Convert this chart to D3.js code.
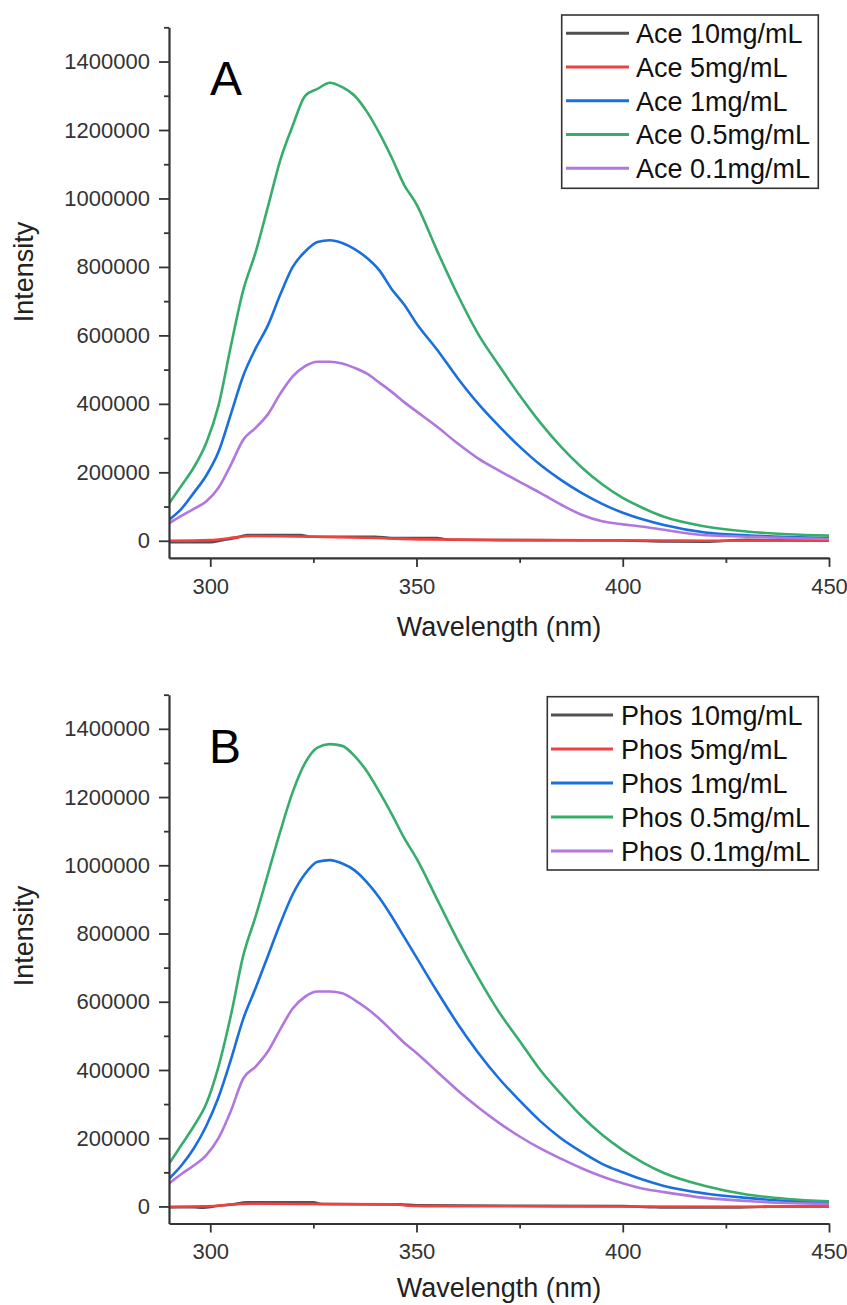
<!DOCTYPE html>
<html><head><meta charset="utf-8">
<script src="https://cdn.jsdelivr.net/npm/d3@7"></script>
<style>
body{margin:0;background:#fff}
svg{display:block}
text{font-family:"Liberation Sans",Arial,Helvetica,sans-serif}
</style>
</head><body>
<svg id="chart" width="847" height="1305"></svg>
<script>
// ---------- data ----------
const wavelengths = [290,293,296,299,302,305,308,311,314,317,320,323,326,329,332,335,338,341,344,347,350,355,360,365,370,375,380,385,390,395,400,405,410,420,430,440,450];

// Panel A (Ace)
const ace1 = [61000,93000,140000,190000,260000,370000,482000,562000,630000,720000,800000,845000,873000,878000,870000,852000,826000,790000,735000,690000,635000,558000,475000,400000,335000,275000,222000,178000,140000,108000,82000,62000,46000,24000,16000,11000,8000];
const ace05 = [109000,161000,214000,285000,395000,569000,732000,843000,977000,1113000,1213000,1300000,1320000,1338000,1325000,1300000,1253000,1191000,1119000,1040000,983000,847000,718000,603000,512000,425000,345000,275000,215000,165000,125000,95000,70000,42000,27000,19000,15000];
const ace01 = [51000,73000,93000,115000,155000,222000,295000,330000,370000,430000,480000,510000,523000,523000,518000,505000,488000,462000,435000,405000,378000,333000,284000,240000,205000,172000,140000,106000,76000,57000,48000,41000,32000,16000,12000,8000,5000];
const ace10Wl = [290,300,303,306,309,322,324,340,344,355,358,370,400,410,420,430,440,450];
const ace10 = [-4000,-4000,2000,8000,17000,17000,12000,12000,8000,8000,3000,2000,1000,-2000,-3000,3000,1000,0];
const ace5Wl = [290,300,303,306,310,325,340,352,380,410,420,450];
const ace5 = [0,2000,5000,10000,14000,12000,8000,4000,2000,1000,0,1000];

// Panel B (Phos)
const phos1 = [81000,120000,170000,235000,320000,430000,550000,640000,735000,830000,915000,975000,1010000,1015000,1005000,985000,950000,905000,850000,790000,730000,630000,535000,450000,375000,310000,250000,200000,160000,125000,100000,78000,60000,38000,25000,16000,12000];
const phos05 = [125000,180000,235000,300000,410000,560000,735000,850000,975000,1100000,1215000,1300000,1345000,1355000,1350000,1320000,1275000,1215000,1150000,1080000,1020000,900000,780000,670000,570000,485000,400000,330000,265000,210000,165000,128000,98000,60000,35000,22000,15000];
const phos01 = [67000,95000,120000,150000,200000,280000,375000,410000,455000,520000,580000,615000,630000,630000,625000,605000,580000,550000,515000,480000,450000,395000,340000,290000,245000,205000,170000,140000,112000,88000,68000,52000,42000,25000,16000,10000,7000];
const phos10Wl = [290,296,298,302,305,309,325,327,346,350,400,407,410,425,440,450];
const phos10 = [-2000,-2000,-4000,2000,5000,12000,12000,7000,6000,3000,1000,-2000,-3000,-3000,0,0];
const phos5Wl = [290,296,302,305,310,345,348,352,400,450];
const phos5 = [-2000,0,2000,6000,8000,6000,2000,1000,0,-1000];

const aceLabels = ["Ace 10mg/mL","Ace 5mg/mL","Ace 1mg/mL","Ace 0.5mg/mL","Ace 0.1mg/mL"];
const phosLabels = ["Phos 10mg/mL","Phos 5mg/mL","Phos 1mg/mL","Phos 0.5mg/mL","Phos 0.1mg/mL"];
const colors = ["#515151","#F14040","#1A6FDF","#37AD6B","#B177DE"];

const xMajor = [300,350,400,450];
const xMinor = [325,375,425];
const yMajor = [0,200000,400000,600000,800000,1000000,1200000,1400000];
const yMinor = [100000,300000,500000,700000,900000,1100000,1300000,1500000];
const xDomain = [290,450];
const yDomain = [-50000,1500000];

// ---------- drawing ----------
const svg = d3.select("#chart");
const X0 = 169, X1 = 829;
const axisColor = "#333";

function drawPanel(cfg){
  const x = d3.scaleLinear().domain(xDomain).range([X0,X1]);
  const y = d3.scaleLinear().domain(yDomain).range([cfg.yBottom,cfg.yTop]);
  const g = svg.append("g");
  const clipId = "clip"+cfg.id;
  svg.append("defs").append("clipPath").attr("id",clipId)
    .append("rect").attr("x",X0).attr("y",cfg.yTop-2).attr("width",X1-X0+2).attr("height",cfg.yBottom-cfg.yTop+1);
  const line = d3.line().x(d=>x(d[0])).y(d=>y(d[1])).curve(d3.curveMonotoneX);
  const lg = g.append("g").attr("clip-path",`url(#${clipId})`);
  cfg.series.forEach((s,i)=>{
    lg.append("path")
      .datum(s.wl.map((w,j)=>[w,s.v[j]]))
      .attr("d",line)
      .attr("fill","none")
      .attr("stroke",colors[i])
      .attr("stroke-width",2.6)
      .attr("stroke-linejoin","round");
  });

  // axes
  const xa = g.append("g").attr("transform",`translate(0,${cfg.yBottom})`)
    .call(d3.axisBottom(x).tickValues(xMajor).tickSize(9).tickSizeOuter(0).tickPadding(11).tickFormat(d3.format("d")));
  const xm = g.append("g").attr("transform",`translate(0,${cfg.yBottom})`)
    .call(d3.axisBottom(x).tickValues(xMinor).tickSize(5).tickFormat(""));
  xm.select(".domain").remove();
  const ya = g.append("g").attr("transform",`translate(${X0},0)`)
    .call(d3.axisLeft(y).tickValues(yMajor).tickSize(10).tickSizeOuter(0).tickPadding(9).tickFormat(d3.format("d")));
  const ym = g.append("g").attr("transform",`translate(${X0},0)`)
    .call(d3.axisLeft(y).tickValues(yMinor).tickSize(5).tickFormat(""));
  ym.select(".domain").remove();
  [xa,ya,xm,ym].forEach(a=>{
    a.selectAll(".domain").attr("stroke",axisColor).attr("stroke-width",2.2);
    a.selectAll(".tick line").attr("stroke",axisColor).attr("stroke-width",1.8);
    a.selectAll(".tick text").attr("fill","#333").style("font-size","22px")
      .style("font-family",'"Liberation Sans",Arial,sans-serif');
  });

  // titles
  g.append("text").attr("x",(X0+X1)/2).attr("y",cfg.xTitleY)
    .attr("text-anchor","middle").attr("fill","#222").style("font-size","27px")
    .text("Wavelength (nm)");
  g.append("text").attr("transform",`translate(33,${cfg.yTitleY}) rotate(-90)`)
    .attr("text-anchor","middle").attr("fill","#222").style("font-size","27px")
    .text("Intensity");
  g.append("text").attr("x",cfg.letterX).attr("y",cfg.letterY)
    .attr("fill","#000").style("font-size","48px").text(cfg.letter);

  // legend
  const L = cfg.legend;
  g.append("rect").attr("x",L.x).attr("y",L.y).attr("width",L.w).attr("height",L.h)
    .attr("fill","#fff").attr("stroke","#333").attr("stroke-width",1.6);
  cfg.labels.forEach((lab,i)=>{
    const yy = L.row0 + i*L.step;
    g.append("line").attr("x1",L.lx1).attr("x2",L.lx2).attr("y1",yy).attr("y2",yy)
      .attr("stroke",colors[i]).attr("stroke-width",3);
    g.append("text").attr("x",L.tx).attr("y",yy).attr("dy","0.36em")
      .attr("fill","#111").style("font-size","27px").text(lab);
  });
}

drawPanel({
  id:"A", yTop:27.3, yBottom:557.9, xTitleY:636, yTitleY:272, letter:"A", letterX:210, letterY:95,
  labels: aceLabels,
  series:[
    {wl:ace10Wl, v:ace10},{wl:ace5Wl, v:ace5},
    {wl:wavelengths, v:ace1},{wl:wavelengths, v:ace05},{wl:wavelengths, v:ace01}
  ],
  legend:{x:561.7,y:15,w:256.6,h:173.3,row0:33.3,step:33.75,lx1:566,lx2:629,tx:636}
});
drawPanel({
  id:"B", yTop:694.7, yBottom:1223.5, xTitleY:1297, yTitleY:936, letter:"B", letterX:209, letterY:763,
  labels: phosLabels,
  series:[
    {wl:phos10Wl, v:phos10},{wl:phos5Wl, v:phos5},
    {wl:wavelengths, v:phos1},{wl:wavelengths, v:phos05},{wl:wavelengths, v:phos01}
  ],
  legend:{x:547.3,y:696.7,w:271,h:173.3,row0:715,step:34,lx1:551,lx2:613,tx:621}
});
</script>
</body></html>
